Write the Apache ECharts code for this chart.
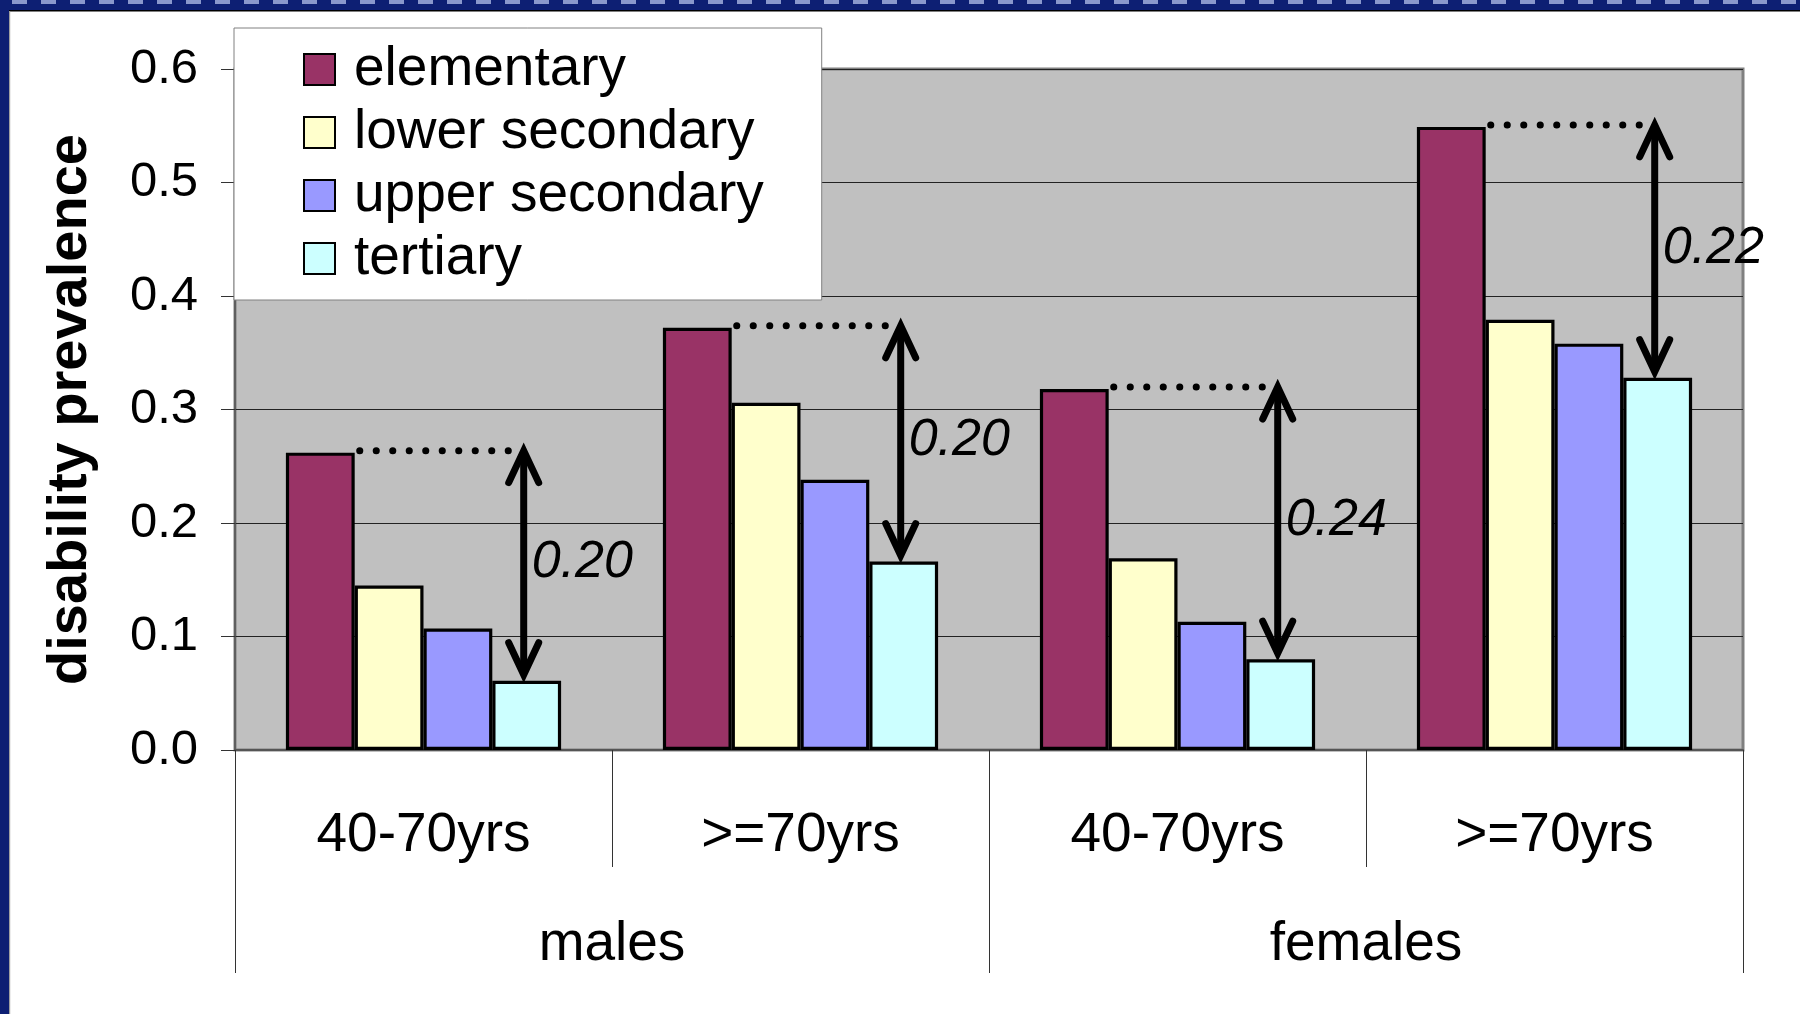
<!DOCTYPE html>
<html>
<head>
<meta charset="utf-8">
<title>disability prevalence</title>
<script src="https://cdn.jsdelivr.net/npm/echarts@6/dist/echarts.min.js"></script>
<style>
    html, body { margin: 0; padding: 0; background: #fff; }
    #chart { width: 1800px; height: 1014px; }
</style>
</head>
<body>
<div id="chart"></div>
<script>
// values
var ageGroups = ['40-70yrs', '>=70yrs', '40-70yrs', '>=70yrs'];
var sexGroups = ['males', 'females'];
var levels = ['elementary', 'lower secondary', 'upper secondary', 'tertiary'];
var elementary = [0.262, 0.372, 0.318, 0.549];
var lowerSecondary = [0.145, 0.306, 0.169, 0.379];
var upperSecondary = [0.107, 0.238, 0.113, 0.358];
var tertiary = [0.061, 0.166, 0.080, 0.328];
var gapLabels = ['0.20', '0.20', '0.24', '0.22'];
var yTickLabels = ['0.0', '0.1', '0.2', '0.3', '0.4', '0.5', '0.6'];

(function (window, echarts) {
    var FONT = '"Liberation Sans", Arial, sans-serif';
    var CAT_GAP = 0.27;
    var colors = ['#993366', '#FFFFCC', '#9999FF', '#CCFFFF'];
    var values = [elementary, lowerSecondary, upperSecondary, tertiary];

    var chart = echarts.init(document.getElementById('chart'), null, { renderer: 'canvas' });

    // double arrow from elementary to tertiary with the dotted guide
    function renderGap(params, api) {
        var idx = api.value(0);
        var top = api.coord([idx, api.value(1)]);
        var bottom = api.coord([idx, api.value(2)]);
        var band = api.size([1, 0])[0];
        var barW = band * (1 - CAT_GAP) / levels.length;
        var x = top[0] + barW * 1.5 - 3;
        var xStart = top[0] - barW + 5;
        var yTop = top[1] - 2;
        var yBot = bottom[1] - 6;
        var head = 32, half = 15;
        var arrowStyle = { stroke: '#000', lineWidth: 7, lineCap: 'round', lineJoin: 'miter', fill: null };

        return {
            type: 'group',
            children: [
                {
                    type: 'line',
                    shape: { x1: xStart, y1: yTop, x2: x - 4, y2: yTop },
                    style: { stroke: '#000', lineWidth: 7, lineCap: 'round', lineDash: [0.1, 16.4] }
                },
                {
                    type: 'line',
                    shape: { x1: x, y1: yTop + 5, x2: x, y2: yBot - 5 },
                    style: arrowStyle
                },
                {
                    type: 'polyline',
                    shape: { points: [[x - half, yTop + head], [x, yTop], [x + half, yTop + head]] },
                    style: arrowStyle
                },
                {
                    type: 'polyline',
                    shape: { points: [[x - half, yBot - head], [x, yBot], [x + half, yBot - head]] },
                    style: arrowStyle
                },
                {
                    type: 'text',
                    x: x + 8,
                    y: (yTop + yBot) / 2,
                    style: {
                        text: gapLabels[params.dataIndex],
                        fill: '#000',
                        font: 'italic 52px ' + FONT,
                        align: 'left',
                        verticalAlign: 'middle'
                    }
                }
            ]
        };
    }

    var series = levels.map(function (name, i) {
        return {
            name: name,
            type: 'bar',
            xAxisIndex: 0,
            barGap: '0%',
            barCategoryGap: (CAT_GAP * 100) + '%',
            data: values[i],
            itemStyle: { color: colors[i], borderColor: '#000', borderWidth: 3.2 }
        };
    });

    series.push({
        type: 'custom',
        xAxisIndex: 0,
        silent: true,
        z: 5,
        renderItem: renderGap,
        encode: { x: 0, y: [1, 2] },
        data: ageGroups.map(function (a, i) { return [i, elementary[i], tertiary[i]]; })
    });

    chart.setOption({
        animation: false,
        backgroundColor: '#fff',
        textStyle: { fontFamily: FONT },
        graphic: [
            { type: 'rect', shape: { x: 0, y: 0, width: 1800, height: 10 }, style: { fill: '#0d1f73' } },
            { type: 'line', shape: { x1: 12, y1: 2, x2: 1800, y2: 2 }, style: { stroke: '#8a98cc', lineWidth: 4, lineDash: [15, 14] } },
            { type: 'rect', shape: { x: 9, y: 10, width: 1791, height: 1.5 }, style: { fill: '#000' } },
            { type: 'rect', shape: { x: 0, y: 0, width: 9, height: 1014 }, style: { fill: '#0d1f73' } },
            { type: 'rect', shape: { x: 9, y: 11, width: 1.2, height: 1003 }, style: { fill: '#a0a0a0' } }
        ],
        grid: {
            left: 235,
            right: 57,
            top: 69,
            bottom: 264,
            show: true,
            backgroundColor: '#C0C0C0',
            borderColor: '#808080',
            borderWidth: 3
        },
        legend: {
            data: levels,
            orient: 'vertical',
            left: 234,
            top: 28,
            padding: [14, 58, 14, 69],
            itemWidth: 31,
            itemHeight: 31,
            itemGap: 8,
            icon: 'rect',
            backgroundColor: '#fff',
            borderColor: '#808080',
            borderWidth: 1,
            textStyle: { fontSize: 55, color: '#000', fontFamily: FONT, padding: [0, 0, 0, 14] }
        },
        xAxis: [
            {
                type: 'category',
                data: ageGroups,
                position: 'bottom',
                axisLine: { show: true, lineStyle: { color: '#555', width: 2 } },
                axisTick: { show: true, interval: 0, length: 117, lineStyle: { color: '#333', width: 1 } },
                axisLabel: { interval: 0, margin: 58, fontSize: 55, color: '#000', fontFamily: FONT },
                splitLine: { show: false }
            },
            {
                type: 'category',
                data: sexGroups,
                position: 'bottom',
                axisLine: { show: false },
                axisTick: { show: true, interval: 0, length: 223, lineStyle: { color: '#333', width: 1 } },
                axisLabel: { interval: 0, margin: 167, fontSize: 55, color: '#000', fontFamily: FONT },
                splitLine: { show: false }
            }
        ],
        yAxis: {
            type: 'value',
            min: 0,
            max: 0.6,
            interval: 0.1,
            name: 'disability prevalence',
            nameLocation: 'middle',
            nameGap: 136,
            nameTextStyle: { fontSize: 56, fontWeight: 'bold', color: '#000', fontFamily: FONT },
            axisLine: { show: true, lineStyle: { color: '#555', width: 1.5 } },
            axisTick: { show: true, length: 14, lineStyle: { color: '#333', width: 1 } },
            axisLabel: {
                margin: 37,
                fontSize: 49,
                color: '#000',
                fontFamily: FONT,
                formatter: function (v) { return yTickLabels[Math.round(v * 10)]; }
            },
            splitLine: { show: true, lineStyle: { color: '#222', width: 1 } }
        },
        series: series
    });
})(window, echarts);
</script>
</body>
</html>
